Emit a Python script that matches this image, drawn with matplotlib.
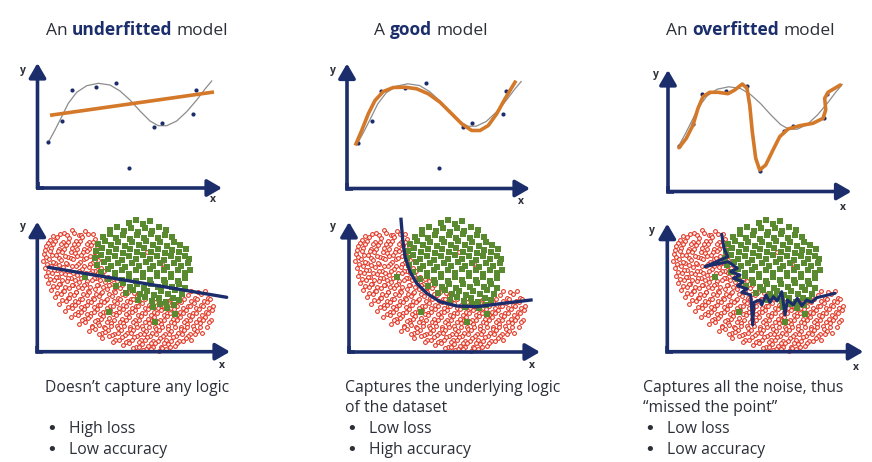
#!/usr/bin/env python
# -*- coding: utf-8 -*-

"""Underfitted / good / overfitted model illustration."""

import matplotlib
matplotlib.use("Agg")
import matplotlib.pyplot as plt
import matplotlib.transforms as mtransforms

W, H = 872, 462
NAVY = "#1b2d6b"
ORANGE = "#d4782a"
GREY = "#8c8c8c"
TEXT = "#2b2f38"
FONT = ["Open Sans", "DejaVu Sans"]

# --- regression panels (pixel units relative to the axis origin) ---
dots_x = [10.8, 24.5, 34.2, 58.2, 78.5, 91.8, 116.2, 124.5, 155.5, 158.5]
dots_y = [45.7, 67.3, 97.7, 100.7, 105.3, 20.3, 61.0, 65.3, 74.0, 97.7]

true_x = [10.8, 17.5, 24.2, 30.8, 39.2, 49.2, 60.8, 72.5, 82.5, 92.5,
          102.5, 112.5, 120.8, 129.2, 139.2, 149.2, 159.2, 167.5, 174.2]
true_y = [45.7, 58, 71.3, 84.7, 95.7, 102.3, 104.7, 103, 97, 88,
          77, 67, 62.3, 62.3, 67, 76.3, 88, 99, 107]

under_x = [12.5, 176.5]
under_y = [72.7, 96.0]

good_x = [9, 14.7, 21.3, 28, 36.3, 46.3, 58, 69.7, 81.3, 93, 104.7,
          114.7, 124.7, 133, 141.3, 149.7, 158, 168]
good_y = [44.7, 58, 74.7, 88, 97, 101, 101.3, 99.7, 94.7, 86.3, 74.7,
          64.7, 58, 58, 63, 74.7, 89.7, 106.3]

over_x = [11, 18.3, 25, 30, 35, 41.7, 50, 60, 66.7, 74.3, 79, 81.7, 84.3,
          87.7, 91.7, 97.7, 105, 111.7, 120, 131.7, 145, 155, 157.7, 156.7,
          160, 166.7, 172.3]
over_y = [43.8, 53.2, 66.5, 83.2, 94.8, 99.2, 99.2, 97.8, 101.5, 107.5,
          103.2, 86.5, 59.8, 33.2, 21.5, 26.5, 41.5, 54.8, 62.5, 65.8, 68.2,
          73.2, 81.5, 93.2, 99.2, 103.2, 106.5]

# --- classification panels ---
red_pts = [
    (27, 119), (35, 122), (42, 117), (48, 121), (56, 118),
    (16, 116), (23, 118), (30, 117), (37, 119), (44, 117), (51, 118),
    (13, 112), (20, 115), (26, 110), (32, 114), (39, 111), (45, 115), (52, 110), (58, 113),
    (11, 109), (18, 111), (24, 108), (31, 110), (37, 108), (43, 111), (50, 108), (56, 110),
    (9, 106), (16, 108), (22, 103), (29, 107), (35, 104), (41, 108), (47, 103), (54, 107), (60, 104),
    (8, 102), (14, 104), (21, 101), (27, 103), (34, 100), (40, 103), (46, 100), (52, 103), (58, 100),
    (7, 98), (13, 101), (19, 97), (25, 100), (31, 95), (38, 99), (44, 97), (50, 101), (57, 96),
    (9, 95), (15, 97), (22, 94), (28, 96), (34, 94), (40, 96), (47, 93), (53, 96), (59, 95),
    (6, 91), (12, 93), (18, 89), (24, 92), (30, 88), (36, 93), (43, 90), (49, 94), (55, 89), (61, 92),
    (10, 88), (16, 90), (22, 87), (29, 89), (35, 86), (41, 88), (47, 86), (53, 88), (60, 86),
    (8, 84), (14, 86), (20, 82), (26, 85), (33, 81), (39, 86), (45, 83), (52, 85), (58, 81), (64, 84),
    (11, 80), (17, 82), (24, 79), (30, 81), (36, 79), (42, 81), (49, 79), (55, 81), (61, 79), (67, 81),
    (9, 76), (15, 79), (21, 75), (28, 78), (34, 74), (40, 77), (47, 75), (53, 79), (59, 74), (65, 77), (71, 75),
    (13, 73), (19, 75), (25, 72), (31, 74), (38, 72), (44, 74), (50, 71), (57, 74), (63, 72), (69, 74), (76, 73),
    (11, 69), (17, 72), (23, 68), (30, 71), (36, 67), (42, 70), (49, 68), (55, 72), (61, 67), (68, 70), (74, 68), (80, 71),
    (16, 66), (22, 68), (28, 65), (35, 67), (41, 65), (47, 67), (53, 65), (60, 67), (66, 65), (72, 67), (79, 65), (85, 67),
    (14, 62), (20, 65), (26, 61), (32, 64), (39, 60), (45, 64), (51, 61), (58, 63), (64, 59), (70, 63), (77, 61), (83, 64),
    (89, 60),
    (20, 59), (27, 61), (33, 58), (39, 60), (46, 58), (52, 60), (59, 58), (65, 60), (72, 58), (78, 60), (85, 58), (91, 60),
    (97, 59), (154, 61), (161, 60), (168, 61),
    (18, 55), (24, 58), (31, 54), (37, 57), (43, 53), (50, 57), (56, 54), (62, 56), (69, 52), (75, 56), (81, 54), (88, 57),
    (94, 53), (100, 56), (151, 57), (158, 54), (164, 58), (171, 54),
    (25, 52), (32, 54), (38, 51), (45, 53), (51, 51), (57, 53), (64, 51), (70, 53), (77, 51), (83, 53), (90, 51), (96, 53),
    (102, 51), (108, 53), (115, 51), (121, 53), (128, 51), (134, 53), (141, 51), (147, 53), (154, 51), (160, 53),
    (167, 51), (173, 53),
    (22, 48), (29, 51), (35, 47), (41, 50), (48, 46), (54, 50), (61, 47), (67, 50), (73, 46), (80, 49), (86, 47), (93, 50),
    (99, 46), (105, 49), (112, 47), (118, 50), (125, 46), (131, 49), (138, 47), (144, 50), (151, 46), (157, 49), (164, 47),
    (170, 50), (176, 46),
    (31, 45), (38, 47), (44, 45), (50, 47), (57, 45), (63, 47), (70, 44), (76, 46), (82, 44), (89, 46), (95, 44),
    (101, 46), (108, 44), (114, 46), (121, 44), (127, 46), (134, 44), (140, 46), (146, 44), (153, 46), (159, 44),
    (166, 46), (172, 44),
    (28, 41), (35, 44), (41, 40), (47, 43), (54, 39), (60, 43), (66, 40), (73, 42), (79, 39), (86, 43), (92, 40), (98, 42),
    (105, 39), (111, 43), (117, 40), (124, 42), (130, 39), (137, 43), (143, 40), (149, 42), (156, 39), (162, 43), (169, 40),
    (175, 42),
    (38, 38), (44, 40), (50, 38), (57, 40), (63, 38), (69, 40), (76, 38), (82, 40), (89, 38), (95, 40), (101, 37),
    (108, 39), (114, 37), (120, 39), (127, 37), (133, 39), (140, 37), (146, 39), (152, 37), (159, 39), (165, 37),
    (171, 39),
    (34, 35), (41, 37), (47, 33), (53, 36), (60, 32), (66, 36), (72, 34), (79, 37), (85, 33), (92, 35), (98, 32), (104, 36),
    (111, 33), (117, 35), (123, 32), (130, 36), (136, 33), (143, 35), (149, 32), (155, 36), (162, 33), (168, 35), (174, 32),
    (45, 32), (51, 34), (58, 31), (64, 33), (70, 30), (77, 32), (83, 30), (89, 32), (96, 30), (102, 32), (108, 30),
    (115, 32), (121, 30), (127, 32), (134, 30), (140, 32), (147, 30), (153, 32), (159, 30), (166, 32), (172, 30),
    (42, 28), (48, 30), (55, 26), (61, 29), (67, 25), (74, 29), (80, 26), (86, 29), (93, 25), (99, 28), (105, 26), (112, 29),
    (118, 25), (124, 28), (131, 26), (137, 29), (144, 25), (150, 28), (156, 26), (163, 29), (170, 25),
    (55, 25), (62, 27), (68, 24), (74, 26), (81, 24), (87, 26), (93, 23), (100, 25), (106, 23), (112, 25), (119, 23),
    (125, 25), (131, 23), (138, 25), (144, 23), (150, 25), (157, 23), (163, 25),
    (52, 21), (58, 23), (65, 19), (71, 22), (77, 18), (84, 22), (90, 19), (96, 22), (103, 18), (109, 21), (115, 19), (122, 22),
    (128, 18), (134, 21), (141, 19), (147, 22), (153, 18), (160, 21), (165, 19),
    (62, 18), (68, 20), (75, 17), (81, 19), (88, 17), (94, 19), (100, 16), (107, 18), (113, 16), (119, 18), (126, 16),
    (132, 18), (139, 16), (145, 18), (151, 16), (158, 18),
    (65, 14), (72, 16), (78, 12), (85, 15), (91, 11), (97, 15), (104, 12), (110, 15), (116, 11), (123, 14), (129, 12),
    (136, 15), (142, 11), (149, 14), (154, 12),
    (76, 10), (82, 12), (89, 10), (95, 12), (102, 10), (108, 12), (114, 9), (121, 11), (127, 9), (134, 11), (140, 9),
    (146, 11),
    (86, 7), (92, 9), (99, 5), (105, 8), (111, 6), (118, 9), (124, 5), (131, 8), (138, 6),
    (96, 4), (102, 5), (109, 3), (116, 5), (125, 4), (133, 5),
    (106, 2), (114, 3), (122, 1), (129, 3),
    (110, 100), (125, 88),
]

green_pts = [
    (92, 129), (99, 132), (106, 128), (113, 131),
    (73, 122), (80, 125), (87, 121), (94, 124), (101, 120), (108, 124), (115, 121), (122, 125), (129, 122),
    (66, 115), (73, 118), (79, 114), (86, 117), (93, 113), (100, 117), (107, 114), (114, 118), (121, 114), (128, 117), (135, 115),
    (61, 108), (68, 111), (74, 107), (81, 110), (88, 106), (95, 110), (102, 107), (109, 111), (116, 107), (123, 110),
    (130, 106), (137, 110), (143, 107),
    (59, 101), (65, 104), (72, 100), (79, 103), (86, 99), (93, 103), (100, 100), (107, 104), (114, 100), (121, 103),
    (128, 99), (135, 102), (142, 100), (149, 103),
    (58, 94), (64, 97), (71, 93), (78, 96), (85, 92), (92, 96), (99, 93), (106, 97), (113, 93), (120, 96), (127, 92),
    (134, 96), (141, 93), (148, 96), (152, 93),
    (60, 87), (67, 90), (74, 86), (81, 89), (88, 85), (95, 89), (102, 86), (109, 90), (116, 86), (123, 89), (130, 85),
    (137, 89), (144, 86), (151, 89),
    (64, 80), (71, 83), (78, 79), (85, 82), (92, 78), (99, 82), (106, 79), (113, 83), (120, 79), (127, 82), (134, 78),
    (141, 82), (148, 79), (153, 82),
    (71, 73), (78, 76), (85, 72), (92, 75), (99, 71), (106, 75), (113, 72), (120, 76), (127, 72), (134, 75), (141, 71), (148, 74),
    (79, 66), (86, 69), (93, 65), (100, 68), (107, 64), (114, 68), (121, 65), (128, 69), (135, 65), (142, 68), (148, 64),
    (89, 59), (96, 62), (103, 58), (110, 61), (117, 57), (124, 61), (131, 58), (138, 62), (145, 58),
    (101, 52), (108, 55), (115, 51), (122, 54), (129, 50), (136, 54), (142, 52),
    (116, 45), (123, 48), (130, 44), (137, 47),
    (48, 75), (72, 40), (118, 30), (138, 38),
]

line_x = [11, 189.4]
line_y = [84.4, 54.4]

curve_x = [52, 53.7, 56, 61, 67.7, 77.7, 91, 107.7, 127.7, 154.3, 182]
curve_y = [132.7, 112, 95.3, 80.3, 68.7, 58.7, 50.3, 46, 45.3, 48.7, 52]

zig_x = [54.4, 56.7, 60.4, 37.7, 61, 70, 63.4, 72.7, 66, 76, 70, 80, 74.4, 83.4,
         85.4, 86.7, 92.7, 94.4, 98.7, 102.7, 106, 110, 114.4, 117.7, 120, 126,
         130, 134.4, 139.4, 144.4, 149.4, 167.7]
zig_y = [117.4, 103.4, 95, 85, 90, 83.4, 80, 76.7, 73.4, 70, 66, 62.7, 59.4, 56.7,
         26.7, 49.4, 51.7, 46.7, 56.7, 49.4, 55, 50.7, 60, 36.7, 51.7, 46.7,
         53.4, 46, 51.7, 49.4, 54, 58.4]

titles = [("An ", "underfitted", " model"),
          ("A ", "good", " model"),
          ("An ", "overfitted", " model")]
captions = [["Doesn\u2019t capture any logic", ""],
            ["Captures the underlying logic", "of the dataset"],
            ["Captures all the noise, thus", "\u201cmissed the point\u201d"]]
bullets = [["High loss", "Low accuracy"],
           ["Low loss", "High accuracy"],
           ["Low loss", "Low accuracy"]]

fig = plt.figure(figsize=(W / 100, H / 100), dpi=100)
fig.patch.set_facecolor("white")
ident = mtransforms.IdentityTransform()


def panel(ox, oy):
    ax = fig.add_axes([(ox - 30) / W, (H - oy - 25) / H, 240 / W, 170 / H])
    ax.set_xlim(-30, 210)
    ax.set_ylim(-25, 145)
    ax.axis("off")
    return ax


def draw_axes(ax, xlen, ylen, xlab, ylab):
    kw = dict(arrowstyle="-|>,head_length=0.55,head_width=0.32",
              color=NAVY, lw=2.6, mutation_scale=16, shrinkA=0, shrinkB=0)
    ax.annotate("", xy=(xlen, 0), xytext=(0, 0), arrowprops=kw, zorder=5)
    ax.annotate("", xy=(0, ylen), xytext=(0, 0), arrowprops=kw, zorder=5)
    ax.plot([0, 0, 6], [6, 0, 0], color=NAVY, lw=2.6,
            solid_joinstyle="miter", solid_capstyle="butt", zorder=5)
    ax.text(xlab[0], xlab[1], "x", fontsize=7.5, fontweight="bold",
            color=TEXT, ha="center", va="center", family=FONT)
    ax.text(ylab[0], ylab[1], "y", fontsize=7.5, fontweight="bold",
            color=TEXT, ha="center", va="center", family=FONT)


# top row
top = [panel(37.5, 188), panel(347, 188.5), panel(668, 191.5)]
draw_axes(top[0], 184.5, 125, (175.5, -11), (-14.5, 118))
draw_axes(top[1], 183, 125, (174, -13), (-14, 118))
draw_axes(top[2], 183.5, 121.5, (175, -15.5), (-12, 116.5))

for ax in top:
    ax.plot(true_x, true_y, color=GREY, lw=0.9, zorder=2)
    ax.scatter(dots_x, dots_y, s=9, color=NAVY, zorder=3, linewidths=0)
top[0].plot(under_x, under_y, color=ORANGE, lw=2.6, solid_capstyle="butt", zorder=4)
top[1].plot(good_x, good_y, color=ORANGE, lw=2.6, solid_joinstyle="round", zorder=4)
top[2].plot(over_x, over_y, color=ORANGE, lw=2.6, solid_joinstyle="round",
            solid_capstyle="round", zorder=4)

# bottom row
bot = [panel(37.3, 351.7), panel(349, 352), panel(667.3, 351.7)]
draw_axes(bot[0], 192.7, 130, (184.7, -14.3), (-14.3, 124.7))
draw_axes(bot[1], 191, 130, (183, -14), (-16, 125))
draw_axes(bot[2], 196, 128, (189, -15.3), (-15, 121.7))

red_x = [p[0] for p in red_pts]
red_y = [p[1] for p in red_pts]
green_x = [p[0] for p in green_pts]
green_y = [p[1] for p in green_pts]
for ax in bot:
    ax.scatter(red_x, red_y, s=7.5, marker="o", facecolor="#fff0ec",
               edgecolor="#e02a18", linewidths=0.7, zorder=2)
    ax.scatter(green_x, green_y, s=17, marker="s", color="#5a8a30",
               linewidths=0, zorder=3)
bot[0].plot(line_x, line_y, color=NAVY, lw=2.4, solid_capstyle="round", zorder=4)
bot[1].plot(curve_x, curve_y, color=NAVY, lw=2.4, solid_joinstyle="round", zorder=4)
bot[2].plot(zig_x, zig_y, color=NAVY, lw=2.2, solid_joinstyle="round",
            solid_capstyle="round", zorder=4)

# titles with a bold middle word
renderer = fig.canvas.get_renderer()
title_cx = [137, 431, 751]
title_fs = 12.5
for (a, b, c), cx in zip(titles, title_cx):
    parts = [(a.strip(), "normal", TEXT), (b, "bold", NAVY), (c.strip(), "normal", TEXT)]
    probe = fig.text(0, 0, "x x", fontsize=title_fs, family=FONT, transform=ident)
    probe2 = fig.text(0, 0, "xx", fontsize=title_fs, family=FONT, transform=ident)
    space = (probe.get_window_extent(renderer).width
             - probe2.get_window_extent(renderer).width)
    probe.remove()
    probe2.remove()
    items = []
    total = 0
    for s, wt, col in parts:
        t = fig.text(0, 0, s, fontsize=title_fs, fontweight=wt, color=col,
                     family=FONT, va="baseline", ha="left", transform=ident)
        items.append((t, total))
        total += t.get_window_extent(renderer).width + space
    total -= space
    for t, off in items:
        t.set_position((cx - total / 2 + off, H - 35))

# captions and bullet lists
cap_x = [45, 345, 643]
cap_fs = 11.3
for i in range(3):
    for j, line in enumerate(captions[i]):
        fig.text(cap_x[i] / W, 1 - (388 + 19.5 * j) / H, line, fontsize=cap_fs,
                 color=TEXT, family=FONT, va="center", ha="left")
    for j, item in enumerate(bullets[i]):
        y = 1 - (429 + 21 * j) / H
        fig.text((cap_x[i] + 1) / W, y, "\u2022", fontsize=13, color=TEXT,
                 family=["DejaVu Sans"], va="center", ha="left")
        fig.text((cap_x[i] + 24) / W, y, item, fontsize=cap_fs, color=TEXT,
                 family=FONT, va="center", ha="left")

fig.savefig("out.png", dpi=100, facecolor="white")
